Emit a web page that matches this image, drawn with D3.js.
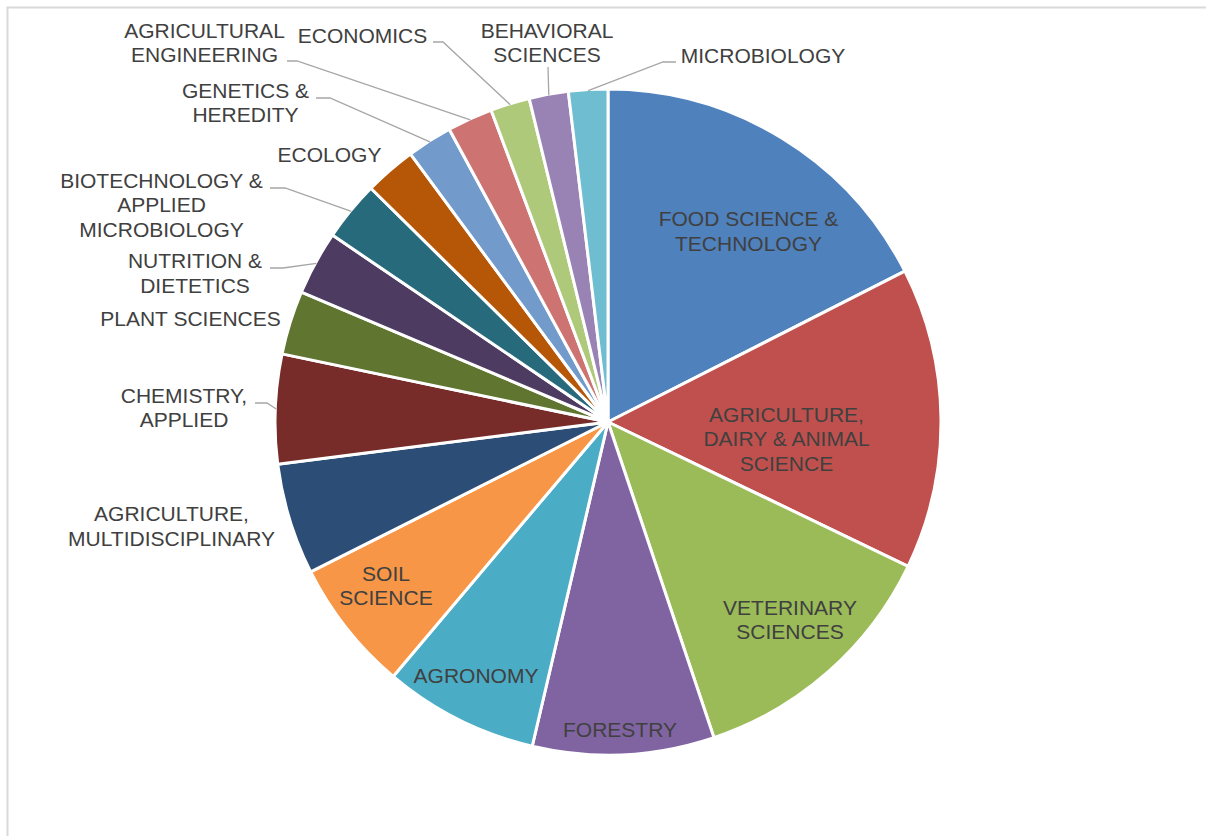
<!DOCTYPE html>
<html>
<head>
<meta charset="utf-8">
<script src="https://cdn.jsdelivr.net/npm/d3@7"></script>
<style>
  html, body { margin: 0; padding: 0; background: #ffffff; }
  svg { display: block; }
</style>
</head>
<body>
<svg id="chart" width="1206" height="836"></svg>
<script>
// Subject categories, clockwise from 12 o'clock
const categories = [
  "FOOD SCIENCE & TECHNOLOGY",
  "AGRICULTURE, DAIRY & ANIMAL SCIENCE",
  "VETERINARY SCIENCES",
  "FORESTRY",
  "AGRONOMY",
  "SOIL SCIENCE",
  "AGRICULTURE, MULTIDISCIPLINARY",
  "CHEMISTRY, APPLIED",
  "PLANT SCIENCES",
  "NUTRITION & DIETETICS",
  "BIOTECHNOLOGY & APPLIED MICROBIOLOGY",
  "ECOLOGY",
  "GENETICS & HEREDITY",
  "AGRICULTURAL ENGINEERING",
  "ECONOMICS",
  "BEHAVIORAL SCIENCES",
  "MICROBIOLOGY"
];

// Number of records per category
const values = [175, 146, 127, 88, 75, 64, 54, 53, 31, 31, 29, 25, 22, 22, 19, 19, 19];

// How each label breaks onto lines
const labelLines = [
  ["FOOD SCIENCE &", "TECHNOLOGY"],
  ["AGRICULTURE,", "DAIRY & ANIMAL", "SCIENCE"],
  ["VETERINARY", "SCIENCES"],
  ["FORESTRY"],
  ["AGRONOMY"],
  ["SOIL", "SCIENCE"],
  ["AGRICULTURE,", "MULTIDISCIPLINARY"],
  ["CHEMISTRY,", "APPLIED"],
  ["PLANT SCIENCES"],
  ["NUTRITION &", "DIETETICS"],
  ["BIOTECHNOLOGY &", "APPLIED", "MICROBIOLOGY"],
  ["ECOLOGY"],
  ["GENETICS &", "HEREDITY"],
  ["AGRICULTURAL", "ENGINEERING"],
  ["ECONOMICS"],
  ["BEHAVIORAL", "SCIENCES"],
  ["MICROBIOLOGY"]
];

// Slice palette
const palette = [
  "#4F81BD", "#C0504D", "#9BBB59", "#8064A2", "#4BACC6", "#F79646",
  "#2C4D75", "#772C2A", "#5F7530", "#4D3B62", "#276A7C", "#B65708",
  "#729ACA", "#CD7371", "#AFC97A", "#9983B5", "#6FBDD1"
];

// Label placement: text block centre x, first baseline y, optional leader
// (leader: [startX, startY, elbowX]; the line then runs to the slice edge)
const labelPlacement = [
  { x: 748.5, y: 226 },
  { x: 786.5, y: 421.5 },
  { x: 790, y: 614.5 },
  { x: 620, y: 736.5 },
  { x: 476, y: 682.5 },
  { x: 386, y: 580.5 },
  { x: 171.5, y: 521 },
  { x: 184, y: 402.5, leader: [255, 403, 267] },
  { x: 190.5, y: 325.5 },
  { x: 195, y: 268, leader: [270, 268, 283] },
  { x: 161.5, y: 187.5, leader: [270, 188, 285] },
  { x: 329.5, y: 162 },
  { x: 245.5, y: 97.5, leader: [316, 98, 330] },
  { x: 204.5, y: 37.5, leader: [287, 61, 297] },
  { x: 362.5, y: 43, leader: [433, 42, 443] },
  { x: 547, y: 37.5, leader: [548, 67, 548] },
  { x: 763, y: 62.5, leader: [676, 62, 663] }
];

const svg = d3.select("#chart");
const W = 1206, H = 836;
const cx = 608, cy = 422, R = 333;
const fontFamily = "'Liberation Sans', Arial, Helvetica, sans-serif";
const fontSize = 21;
const lineH = 24.5;

// Chart area frame
svg.append("rect")
  .attr("x", 7.5).attr("y", 7.5)
  .attr("width", W + 20).attr("height", H + 20)
  .attr("fill", "#ffffff")
  .attr("stroke", "#d9d9d9")
  .attr("stroke-width", 2);

const rows = categories.map((c, i) => ({ category: c, value: values[i], index: i }));

const color = d3.scaleOrdinal().domain(categories).range(palette);

const pie = d3.pie()
  .sort(null)
  .value(d => d.value)
  .startAngle(0)
  .endAngle(2 * Math.PI);

const arcs = pie(rows);
const arc = d3.arc().innerRadius(0).outerRadius(R);

const g = svg.append("g").attr("transform", `translate(${cx},${cy})`);

g.selectAll("path.slice")
  .data(arcs)
  .join("path")
  .attr("class", "slice")
  .attr("d", arc)
  .attr("fill", d => color(d.data.category))
  .attr("stroke", "#ffffff")
  .attr("stroke-width", 3)
  .attr("stroke-linejoin", "round");

// Leader lines from outside labels to the slice edges
const edgeArc = d3.arc().innerRadius(R - 1).outerRadius(R - 1);
const leaderLine = d3.line();
svg.append("g")
  .selectAll("path.leader")
  .data(arcs.filter(d => labelPlacement[d.index].leader))
  .join("path")
  .attr("class", "leader")
  .attr("d", d => {
    const [sx, sy, ex] = labelPlacement[d.index].leader;
    const mid = (d.startAngle + d.endAngle) / 2;
    const px = cx + (R - 1) * Math.sin(mid);
    const py = cy - (R - 1) * Math.cos(mid);
    return leaderLine([[sx, sy], [ex, sy], [px, py]]);
  })
  .attr("fill", "none")
  .attr("stroke", "#a6a6a6")
  .attr("stroke-width", 1.3);

// Category labels
const labels = svg.append("g")
  .selectAll("text.label")
  .data(arcs)
  .join("text")
  .attr("class", "label")
  .attr("x", d => labelPlacement[d.index].x)
  .attr("y", d => labelPlacement[d.index].y)
  .attr("text-anchor", "middle")
  .attr("font-family", fontFamily)
  .attr("font-size", fontSize)
  .attr("fill", "#404040");

labels.selectAll("tspan")
  .data(d => labelLines[d.index].map((t, k) => ({ t, k, x: labelPlacement[d.index].x })))
  .join("tspan")
  .attr("x", d => d.x)
  .attr("dy", d => d.k === 0 ? 0 : lineH)
  .text(d => d.t);
</script>
</body>
</html>
